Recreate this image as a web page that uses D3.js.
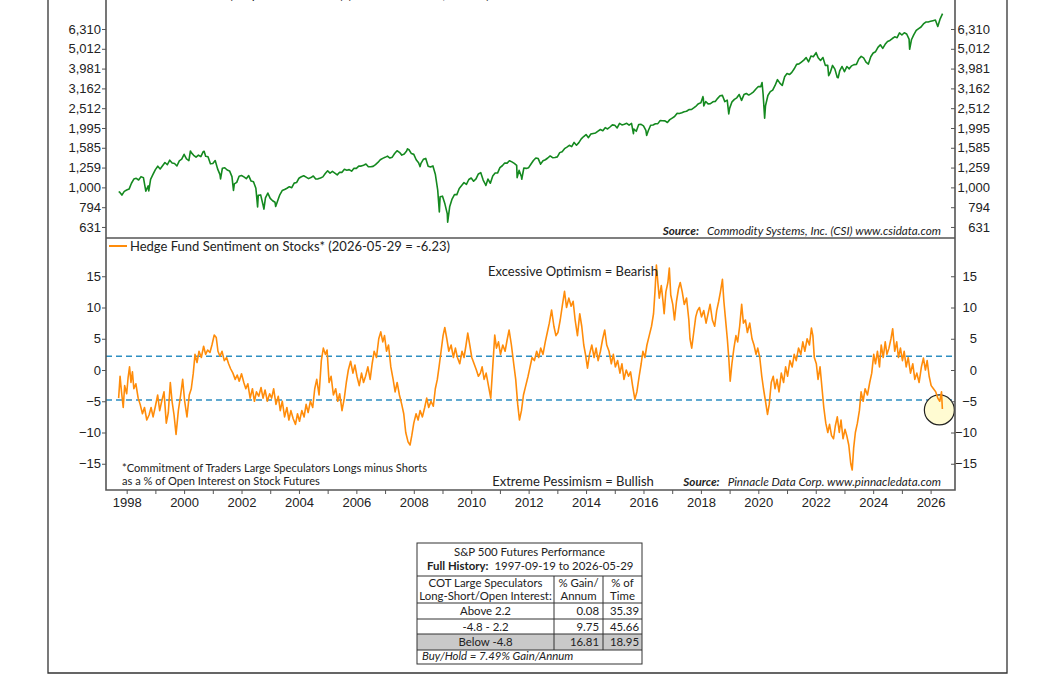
<!DOCTYPE html>
<html>
<head>
<meta charset="utf-8">
<script src="https://cdn.jsdelivr.net/npm/d3@7"></script>
<style>
  body { margin: 0; background: #fff; }
  svg { display: block; font-family: Lato, 'Open Sans', sans-serif; }
</style>
</head>
<body>
<script>
// S&P 500 futures, month-end closes from 1997-09
const spxStart = 1997 + 9 / 12
const spxMonthly = [
  947, 914, 955, 970,
  980, 1049, 1101, 1111, 1090, 1133, 1120, 957, 1017, 1098, 1163, 1229,
  1279, 1238, 1286, 1335, 1301, 1372, 1328, 1320, 1282, 1362, 1388, 1469,
  1394, 1366, 1498, 1452, 1420, 1454, 1430, 1517, 1436, 1429, 1315, 1320,
  1366, 1240, 1160, 1249, 1256, 1224, 1211, 1134, 1041, 1060, 1139, 1148,
  1130, 1107, 1147, 1076, 1067, 990, 912, 916, 815, 886, 936, 880,
  856, 841, 848, 917, 964, 975, 990, 1008, 996, 1051, 1058, 1112,
  1131, 1145, 1126, 1107, 1121, 1141, 1102, 1104, 1115, 1130, 1174, 1212,
  1181, 1204, 1181, 1157, 1192, 1191, 1234, 1220, 1229, 1207, 1249, 1248,
  1280, 1281, 1295, 1311, 1270, 1270, 1277, 1304, 1336, 1378, 1401, 1418,
  1438, 1407, 1421, 1482, 1531, 1503, 1455, 1474, 1527, 1549, 1481, 1468,
  1379, 1331, 1323, 1386, 1400, 1280, 1267, 1283, 1165, 969, 896, 903,
  826, 735, 798, 873, 919, 919, 987, 1021, 1057, 1036, 1096, 1115,
  1074, 1104, 1169, 1187, 1089, 1031, 1102, 1049, 1141, 1183, 1181, 1258,
  1286, 1327, 1326, 1364, 1345, 1321, 1292, 1219, 1131, 1253, 1247, 1258,
  1312, 1366, 1408, 1398, 1310, 1362, 1379, 1407, 1441, 1412, 1416, 1426,
  1498, 1515, 1569, 1598, 1631, 1606, 1686, 1633, 1682, 1757, 1806, 1848,
  1783, 1859, 1872, 1884, 1924, 1960, 1931, 2003, 1972, 2018, 2068, 2059,
  1995, 2105, 2068, 2086, 2107, 2063, 2104, 1972, 1920, 2079, 2080, 2044,
  1940, 1932, 2060, 2065, 2097, 2099, 2174, 2171, 2168, 2126, 2199, 2239,
  2279, 2364, 2363, 2384, 2412, 2423, 2470, 2472, 2519, 2575, 2648, 2674,
  2824, 2714, 2641, 2648, 2705, 2718, 2816, 2902, 2914, 2712, 2760, 2507,
  2704, 2784, 2834, 2946, 2752, 2942, 2980, 2926, 2977, 3038, 3141, 3231,
  3226, 2954, 2585, 2912, 3044, 3100, 3271, 3500, 3363, 3270, 3622, 3756,
  3714, 3811, 3973, 4181, 4204, 4298, 4395, 4523, 4308, 4605, 4567, 4766,
  4516, 4374, 4530, 4132, 4132, 3785, 4130, 3955, 3586, 3872, 4080, 3840,
  4077, 3970, 4109, 4169, 4180, 4450, 4589, 4508, 4288, 4194, 4568, 4770,
  4846, 5096, 5254, 5036, 5278, 5460, 5522, 5648, 5762, 5705, 6032, 5882,
  6040, 5955, 5612, 5569, 5912, 6205, 6339, 6460, 6688, 6840, 6850, 6900,
  6950, 7000, 6500, 7100, 7545.54
]
// intramonth highs / lows visible on the chart
const spxExtremes = [
  [1997.72, 950], [1998.77, 960], [2000.22, 1527], [2000.70, 1520],
  [2001.27, 1103], [2001.72, 966], [2002.56, 797], [2002.78, 777],
  [2003.19, 800], [2007.78, 1565], [2008.22, 1273], [2008.89, 752],
  [2009.18, 667], [2010.51, 1022], [2011.33, 1363], [2011.60, 1120],
  [2011.76, 1099], [2015.65, 1867], [2016.11, 1829], [2018.07, 2873],
  [2018.10, 2581], [2018.97, 2351], [2020.13, 3386], [2020.22, 2237],
  [2022.01, 4796], [2022.45, 3667], [2022.78, 3577], [2025.27, 4982]
]

// Hedge fund sentiment (COT large speculators, % of OI): [year, value]
const sentiment = [
  [1997.72, -4.5], [1997.77, -1.0], [1997.82, -3.5], [1997.88, -6.0], [1997.93, -2.5],
  [1998.00, -3.8], [1998.05, -1.2], [1998.10, 0.5], [1998.15, -2.0], [1998.20, -0.3],
  [1998.25, -3.0], [1998.32, -2.2], [1998.40, -4.5], [1998.47, -5.5], [1998.55, -7.0],
  [1998.62, -6.0], [1998.70, -8.0], [1998.78, -7.2], [1998.85, -6.0], [1998.92, -7.5],
  [1999.00, -5.8], [1999.08, -4.0], [1999.15, -6.5], [1999.22, -5.0], [1999.30, -3.5],
  [1999.38, -8.5], [1999.45, -6.8], [1999.52, -2.0], [1999.58, -5.0], [1999.65, -7.2],
  [1999.72, -10.3], [1999.80, -6.5], [1999.88, -4.0], [1999.95, -1.5], [2000.02, -5.0],
  [2000.10, -7.5], [2000.18, -4.0], [2000.25, -3.0], [2000.32, -0.5], [2000.38, 2.5],
  [2000.45, 1.2], [2000.52, 3.0], [2000.60, 2.0], [2000.68, 3.8], [2000.75, 2.5],
  [2000.82, 3.2], [2000.90, 2.8], [2000.97, 4.0], [2001.05, 5.6], [2001.12, 5.2],
  [2001.18, 3.0], [2001.25, 2.2], [2001.32, 3.0], [2001.40, 1.5], [2001.48, 2.0],
  [2001.55, 1.0], [2001.62, 0.2], [2001.70, -0.5], [2001.78, -1.5], [2001.85, -0.8],
  [2001.92, -1.8], [2002.00, -0.6], [2002.08, -2.0], [2002.15, -3.0], [2002.22, -2.2],
  [2002.30, -4.5], [2002.38, -3.0], [2002.45, -5.0], [2002.52, -3.5], [2002.60, -4.2],
  [2002.68, -2.8], [2002.75, -4.5], [2002.82, -3.2], [2002.90, -5.0], [2002.98, -3.8],
  [2003.05, -4.5], [2003.12, -3.0], [2003.20, -5.5], [2003.28, -4.2], [2003.35, -6.5],
  [2003.42, -5.0], [2003.50, -7.5], [2003.58, -6.0], [2003.65, -8.0], [2003.72, -6.5],
  [2003.80, -7.8], [2003.88, -8.7], [2003.95, -7.0], [2004.02, -8.2], [2004.10, -6.5],
  [2004.18, -7.5], [2004.25, -5.5], [2004.32, -6.8], [2004.40, -5.0], [2004.48, -6.0],
  [2004.55, -3.0], [2004.62, -1.5], [2004.70, -4.0], [2004.78, 1.5], [2004.85, 3.5],
  [2004.92, 2.5], [2004.98, 3.2], [2005.05, -2.0], [2005.12, -1.0], [2005.20, -4.0],
  [2005.28, -3.0], [2005.35, -5.0], [2005.42, -3.8], [2005.50, -6.5], [2005.58, -4.5],
  [2005.65, -2.0], [2005.72, 0.0], [2005.80, 1.4], [2005.88, -0.5], [2005.95, 0.8],
  [2006.02, -1.0], [2006.10, -2.5], [2006.18, -0.5], [2006.25, -2.0], [2006.32, -1.0],
  [2006.40, 0.5], [2006.48, -1.5], [2006.55, 1.0], [2006.62, 3.0], [2006.70, 2.0],
  [2006.78, 5.0], [2006.85, 6.1], [2006.92, 4.5], [2006.98, 5.5], [2007.05, 3.0],
  [2007.12, 4.0], [2007.20, 0.5], [2007.28, -1.5], [2007.35, -3.5], [2007.42, -2.0],
  [2007.50, -4.0], [2007.58, -5.5], [2007.65, -7.0], [2007.72, -10.0], [2007.80, -11.5],
  [2007.87, -12.0], [2007.93, -10.5], [2008.00, -8.5], [2008.08, -7.0], [2008.15, -8.0],
  [2008.22, -6.5], [2008.30, -7.5], [2008.38, -6.0], [2008.45, -4.5], [2008.52, -6.0],
  [2008.60, -5.0], [2008.68, -5.8], [2008.75, -3.0], [2008.82, -1.5], [2008.88, 0.5],
  [2008.95, 3.0], [2009.02, 5.5], [2009.08, 6.8], [2009.15, 5.0], [2009.22, 3.0],
  [2009.30, 4.0], [2009.38, 2.0], [2009.45, 3.5], [2009.52, 2.0], [2009.60, 1.0],
  [2009.68, 3.0], [2009.75, 2.0], [2009.82, 4.0], [2009.88, 5.9], [2009.95, 4.0],
  [2010.02, 2.0], [2010.10, 1.0], [2010.18, 0.0], [2010.25, -1.0], [2010.32, -0.5],
  [2010.38, 0.5], [2010.45, -1.5], [2010.52, -0.5], [2010.60, -2.5], [2010.68, -4.5],
  [2010.75, 0.5], [2010.82, 5.6], [2010.88, 3.5], [2010.95, 4.5], [2011.02, 2.5],
  [2011.10, 4.0], [2011.18, 3.0], [2011.25, 4.8], [2011.32, 6.4], [2011.40, 4.0],
  [2011.48, 1.0], [2011.55, -1.5], [2011.62, -5.5], [2011.68, -8.0], [2011.75, -6.5],
  [2011.82, -4.0], [2011.90, -2.5], [2011.98, -1.0], [2012.05, 0.5], [2012.12, 2.0],
  [2012.20, 1.5], [2012.28, 3.0], [2012.35, 2.0], [2012.42, 3.5], [2012.50, 2.5],
  [2012.58, 4.5], [2012.65, 6.0], [2012.72, 7.5], [2012.80, 9.6], [2012.88, 7.0],
  [2012.95, 5.5], [2013.02, 6.0], [2013.10, 8.0], [2013.18, 10.5], [2013.25, 12.6],
  [2013.32, 10.0], [2013.40, 11.5], [2013.48, 10.2], [2013.55, 11.0], [2013.62, 8.0],
  [2013.70, 5.5], [2013.78, 9.0], [2013.85, 7.0], [2013.92, 4.0], [2013.98, 2.5],
  [2014.05, 0.3], [2014.12, 2.5], [2014.20, 4.0], [2014.28, 2.0], [2014.35, 3.5],
  [2014.42, 1.5], [2014.50, 3.0], [2014.58, 5.0], [2014.65, 6.4], [2014.72, 4.0],
  [2014.80, 3.0], [2014.88, 1.0], [2014.95, 2.5], [2015.02, 0.5], [2015.10, 1.5],
  [2015.18, -0.5], [2015.25, 1.0], [2015.32, -1.5], [2015.40, 0.0], [2015.48, -1.0],
  [2015.55, -0.3], [2015.62, -2.5], [2015.70, -4.7], [2015.77, -3.5], [2015.85, -1.0],
  [2015.92, 1.0], [2015.98, 3.0], [2016.05, 2.0], [2016.12, 4.0], [2016.20, 5.5],
  [2016.28, 7.0], [2016.35, 9.0], [2016.40, 12.5], [2016.45, 16.8], [2016.50, 14.0],
  [2016.55, 11.5], [2016.62, 13.5], [2016.68, 11.0], [2016.72, 9.0], [2016.78, 12.5],
  [2016.85, 14.0], [2016.90, 16.3], [2016.95, 12.0], [2017.02, 10.5], [2017.08, 8.0],
  [2017.15, 11.0], [2017.22, 13.0], [2017.28, 14.0], [2017.35, 12.5], [2017.42, 10.5],
  [2017.50, 11.5], [2017.58, 8.0], [2017.62, 5.0], [2017.68, 3.5], [2017.75, 6.0],
  [2017.82, 8.5], [2017.88, 9.5], [2017.95, 10.0], [2018.02, 8.5], [2018.10, 9.5],
  [2018.18, 7.5], [2018.25, 9.0], [2018.32, 10.5], [2018.40, 8.0], [2018.48, 7.0],
  [2018.55, 9.5], [2018.62, 11.0], [2018.68, 12.5], [2018.75, 14.5], [2018.80, 11.0],
  [2018.85, 8.5], [2018.92, 5.0], [2018.97, 2.0], [2019.02, -1.8], [2019.08, 1.0],
  [2019.15, 3.5], [2019.22, 5.5], [2019.28, 4.5], [2019.35, 7.0], [2019.42, 10.5],
  [2019.48, 7.5], [2019.55, 8.0], [2019.62, 6.0], [2019.70, 7.5], [2019.78, 5.0],
  [2019.85, 4.0], [2019.92, 2.5], [2019.98, 3.5], [2020.05, 2.0], [2020.12, -1.0],
  [2020.18, -3.0], [2020.25, -5.0], [2020.32, -7.1], [2020.38, -5.5], [2020.45, -2.0],
  [2020.52, -1.0], [2020.58, -3.0], [2020.65, -1.5], [2020.72, -3.5], [2020.80, -0.5],
  [2020.88, -2.0], [2020.95, 0.5], [2021.02, -1.0], [2021.10, 1.5], [2021.18, 0.5],
  [2021.25, 2.5], [2021.32, 1.5], [2021.40, 3.5], [2021.48, 2.5], [2021.55, 4.5],
  [2021.62, 3.0], [2021.70, 5.0], [2021.78, 4.0], [2021.85, 6.7], [2021.90, 5.5],
  [2021.95, 2.0], [2022.02, 1.0], [2022.08, -1.5], [2022.15, 0.5], [2022.22, -3.0],
  [2022.28, -6.0], [2022.35, -8.5], [2022.42, -10.0], [2022.48, -8.7], [2022.55, -10.5],
  [2022.62, -11.0], [2022.68, -9.0], [2022.75, -7.5], [2022.82, -10.0], [2022.88, -8.0],
  [2022.95, -11.0], [2023.02, -9.5], [2023.08, -10.5], [2023.15, -12.0], [2023.22, -15.0],
  [2023.27, -16.0], [2023.32, -12.5], [2023.38, -10.0], [2023.45, -8.5], [2023.52, -6.5],
  [2023.58, -3.5], [2023.65, -5.0], [2023.72, -3.0], [2023.80, -4.0], [2023.88, -2.0],
  [2023.95, -0.5], [2024.02, 2.5], [2024.08, 1.0], [2024.15, 3.0], [2024.22, 0.5],
  [2024.28, 4.0], [2024.35, 2.0], [2024.42, 4.5], [2024.48, 2.5], [2024.55, 3.5],
  [2024.62, 5.0], [2024.68, 6.6], [2024.75, 3.0], [2024.82, 4.5], [2024.88, 2.0],
  [2024.95, 3.5], [2025.02, 1.5], [2025.08, 3.0], [2025.15, 0.5], [2025.22, 2.0],
  [2025.30, -0.5], [2025.38, 1.0], [2025.45, -1.5], [2025.52, -0.5], [2025.60, -2.0],
  [2025.68, 0.5], [2025.75, 1.9], [2025.82, 0.0], [2025.88, 1.5], [2025.95, -1.0],
  [2026.02, -2.5], [2026.10, -3.0], [2026.18, -3.5], [2026.25, -4.5], [2026.32, -5.0],
  [2026.38, -3.5], [2026.41, -6.23]
]

const priceTicks = [631, 794, 1000, 1259, 1585, 1995, 2512, 3162, 3981, 5012, 6310]
const sentTicks = [-15, -10, -5, 0, 5, 10, 15]
const yearTicks = [1998, 1999, 2000, 2001, 2002, 2003, 2004, 2005, 2006, 2007, 2008, 2009,
  2010, 2011, 2012, 2013, 2014, 2015, 2016, 2017, 2018, 2019, 2020, 2021, 2022, 2023,
  2024, 2025, 2026]
const thresholds = [2.2, -4.8]

const tableTitle = 'S&P 500 Futures Performance'
const tableHistory = ['Full History:', '1997-09-19 to 2026-05-29']
const tableHeader = [['COT Large Speculators', 'Long-Short/Open Interest:'], ['% Gain/', 'Annum'], ['% of', 'Time']]
const tableRows = [
  ['Above 2.2', '0.08', '35.39'],
  ['-4.8 - 2.2', '9.75', '45.66'],
  ['Below -4.8', '16.81', '18.95']
]
const buyHold = 'Buy/Hold = 7.49% Gain/Annum'

// ---------------- drawing ----------------
const W = 1056, H = 675
const L = 106, R = 955
const axisColor = '#555'

const svg = d3.select('body').append('svg')
  .attr('width', W)
  .attr('height', H)

const x = d3.scaleLinear().domain([1997.28, 2026.85]).range([L, R])
const yPrice = d3.scaleLog().domain([555, 9930]).range([238, -10])
const ySent = d3.scaleLinear().domain([-19.2, 21.12]).range([490, 238])

// page frame
svg.append('path')
  .attr('d', 'M48,0V673H1007V0')
  .attr('fill', 'none')
  .attr('stroke', '#333')
  .attr('stroke-width', 1.3)

// price series
const spx = spxMonthly.map((v, i) => [spxStart + i / 12, v])
  .concat(spxExtremes)
  .sort((a, b) => a[0] - b[0])

svg.append('path')
  .datum(spx)
  .attr('fill', 'none')
  .attr('stroke', '#14891f')
  .attr('stroke-width', 1.6)
  .attr('stroke-linejoin', 'round')
  .attr('d', d3.line().x(d => x(d[0])).y(d => yPrice(d[1])))

// threshold lines
svg.append('g')
  .selectAll('line')
  .data(thresholds)
  .enter()
  .append('line')
  .attr('x1', L)
  .attr('x2', R)
  .attr('y1', d => ySent(d))
  .attr('y2', d => ySent(d))
  .attr('stroke', '#2e8fc2')
  .attr('stroke-width', 1.3)
  .attr('stroke-dasharray', '6,4')

// highlight circle at latest reading
const last = sentiment[sentiment.length - 1]
svg.append('circle')
  .attr('cx', x(last[0]) - 3)
  .attr('cy', ySent(last[1]) + 1)
  .attr('r', 15)
  .attr('fill', '#fffbd2')
  .attr('stroke', '#222')
  .attr('stroke-width', 1.2)

svg.append('path')
  .datum(sentiment)
  .attr('fill', 'none')
  .attr('stroke', '#ff8c0a')
  .attr('stroke-width', 1.6)
  .attr('stroke-linejoin', 'round')
  .attr('d', d3.line().x(d => x(d[0])).y(d => ySent(d[1])))

// axes
function styleAxis(g) {
  g.select('.domain').remove()
  g.selectAll('.tick line').attr('stroke', axisColor)
  g.selectAll('.tick text').attr('fill', '#222').style('font-size', '13px')
}

svg.append('g')
  .attr('transform', `translate(${L},0)`)
  .call(d3.axisLeft(yPrice).tickValues(priceTicks).tickFormat(d3.format(',')).tickSize(4).tickPadding(1))
  .call(styleAxis)

svg.append('g')
  .attr('transform', `translate(${R},0)`)
  .call(d3.axisRight(yPrice).tickValues(priceTicks).tickFormat(d3.format(',')).tickSize(-4).tickPadding(35))
  .call(styleAxis)
  .call(g => g.selectAll('.tick text').attr('text-anchor', 'end'))

svg.append('g')
  .attr('transform', `translate(${L},0)`)
  .call(d3.axisLeft(ySent).tickValues(sentTicks).tickSize(4).tickPadding(1))
  .call(styleAxis)

svg.append('g')
  .attr('transform', `translate(${R},0)`)
  .call(d3.axisRight(ySent).tickValues(sentTicks).tickSize(-4).tickPadding(22))
  .call(styleAxis)
  .call(g => g.selectAll('.tick text').attr('text-anchor', 'end'))

svg.append('g')
  .attr('transform', 'translate(0,490)')
  .call(d3.axisBottom(x).tickValues(yearTicks).tickSize(4).tickPadding(4)
    .tickFormat(d => d % 2 === 0 ? d : ''))
  .call(styleAxis)

// panel borders
svg.append('path')
  .attr('d', `M${L},-10V490H${R}V-10M${L},238H${R}`)
  .attr('fill', 'none')
  .attr('stroke', axisColor)
  .attr('stroke-width', 1.6)

// legends (the top one sits partly above the page edge, as in the original)
const legends = [
  { y: -6, color: '#14891f', text: 'S&P 500 Futures (Perpetual Contract) (2026-05-29 = 7,545.54)' },
  { y: 246, color: '#ff8c0a', text: 'Hedge Fund Sentiment on Stocks* (2026-05-29 = -6.23)' }
]
legends.forEach(l => {
  svg.append('line')
    .attr('x1', L + 3).attr('x2', L + 21)
    .attr('y1', l.y).attr('y2', l.y)
    .attr('stroke', l.color).attr('stroke-width', 2)
  svg.append('text')
    .attr('x', L + 24).attr('y', l.y + 4.5)
    .style('font-size', '13px').attr('fill', '#222')
    .text(l.text)
})

// sources
function source(y, txt) {
  const t = svg.append('text')
    .attr('x', 941).attr('y', y)
    .attr('text-anchor', 'end')
    .style('font-size', '11.7px').style('font-style', 'italic').attr('fill', '#222')
  t.append('tspan').style('font-weight', 'bold').text('Source:')
  t.append('tspan').attr('dx', 8).text(txt)
}
source(235, 'Commodity Systems, Inc. (CSI) www.csidata.com')
source(486, 'Pinnacle Data Corp. www.pinnacledata.com')

svg.append('text')
  .attr('x', 573).attr('y', 276)
  .attr('text-anchor', 'middle')
  .style('font-size', '13px').attr('fill', '#222')
  .text('Excessive Optimism = Bearish')

svg.append('text')
  .attr('x', 573).attr('y', 486)
  .attr('text-anchor', 'middle')
  .style('font-size', '13px').attr('fill', '#222')
  .text('Extreme Pessimism = Bullish')

svg.append('text')
  .attr('x', 122).attr('y', 472)
  .style('font-size', '11.1px').attr('fill', '#222')
  .text('*Commitment of Traders Large Speculators Longs minus Shorts')
svg.append('text')
  .attr('x', 122).attr('y', 485)
  .style('font-size', '11.1px').attr('fill', '#222')
  .text('as a % of Open Interest on Stock Futures')

// performance table
const tx = [417, 554, 603, 642]
const ty = [543, 576, 603, 619, 634, 650, 664]
const table = svg.append('g').style('font-size', '11.4px').attr('fill', '#222')

table.append('rect')
  .attr('x', tx[0]).attr('y', ty[4])
  .attr('width', tx[3] - tx[0]).attr('height', ty[5] - ty[4])
  .attr('fill', '#c9c9c9')

table.append('rect')
  .attr('x', tx[0]).attr('y', ty[0])
  .attr('width', tx[3] - tx[0]).attr('height', ty[6] - ty[0])
  .attr('fill', 'none').attr('stroke', '#333').attr('stroke-width', 1)

ty.slice(1, 6).forEach(yy => {
  table.append('line').attr('x1', tx[0]).attr('x2', tx[3]).attr('y1', yy).attr('y2', yy)
    .attr('stroke', '#333').attr('stroke-width', 1)
})
tx.slice(1, 3).forEach(xx => {
  table.append('line').attr('x1', xx).attr('x2', xx).attr('y1', ty[1]).attr('y2', ty[5])
    .attr('stroke', '#333').attr('stroke-width', 1)
})

table.append('text')
  .attr('x', (tx[0] + tx[3]) / 2).attr('y', 556)
  .attr('text-anchor', 'middle')
  .text(tableTitle)
const hist = table.append('text').attr('x', 427).attr('y', 570)
hist.append('tspan').style('font-weight', 'bold').text(tableHistory[0])
hist.append('tspan').attr('dx', 6).text(tableHistory[1])

tableHeader.forEach((lines, i) => {
  lines.forEach((s, j) => {
    table.append('text')
      .attr('x', (tx[i] + tx[i + 1]) / 2).attr('y', 587 + j * 13)
      .attr('text-anchor', 'middle')
      .text(s)
  })
})

tableRows.forEach((row, r) => {
  const base = ty[r + 2] + 12
  table.append('text')
    .attr('x', (tx[0] + tx[1]) / 2).attr('y', base)
    .attr('text-anchor', 'middle').text(row[0])
  table.append('text')
    .attr('x', tx[2] - 4).attr('y', base)
    .attr('text-anchor', 'end').text(row[1])
  table.append('text')
    .attr('x', tx[3] - 3).attr('y', base)
    .attr('text-anchor', 'end').text(row[2])
})

table.append('text')
  .attr('x', 422).attr('y', 660)
  .style('font-style', 'italic')
  .text(buyHold)
</script>
</body>
</html>
